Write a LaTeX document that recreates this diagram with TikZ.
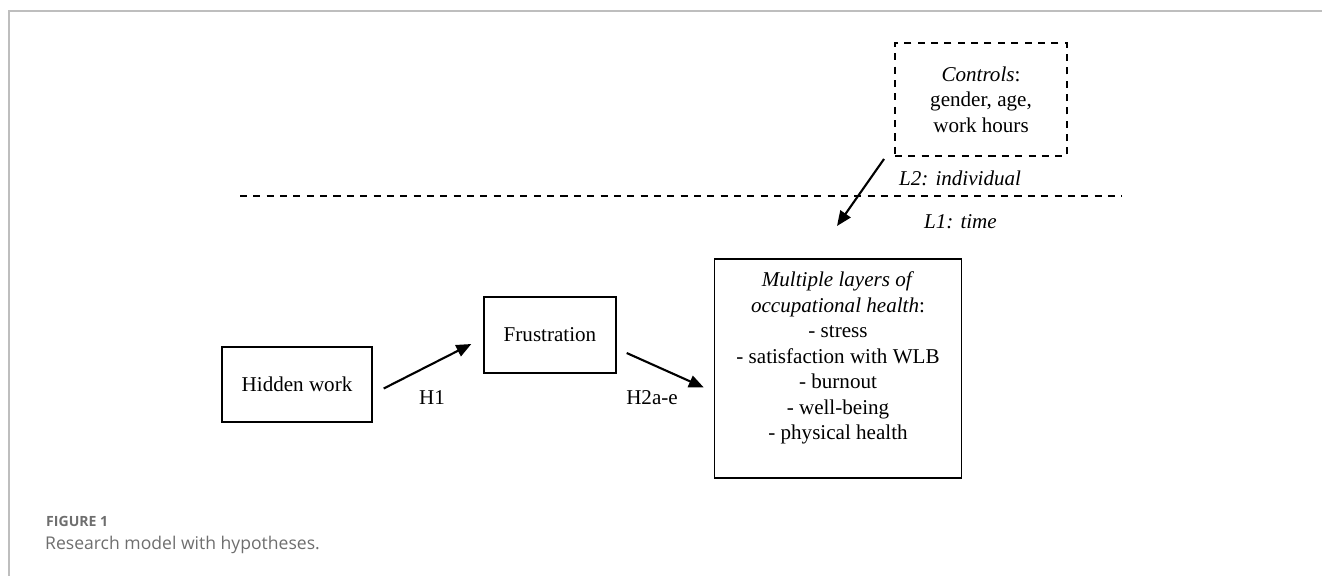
\documentclass[tikz,border=0pt]{standalone}
\usepackage{fontspec}
\setmainfont{Liberation Serif}
\newfontfamily\captionfont{Open Sans}
\usepackage{tikz}
\usetikzlibrary{arrows.meta, positioning, calc}
\definecolor{framegray}{RGB}{190,190,190}
\definecolor{captiongray}{RGB}{110,110,110}

\begin{document}
\begin{tikzpicture}[
            x=0.02cm, y=-0.02cm,
            box/.style={rectangle, draw=black, line width=0.8pt, align=center, font=\fontsize{12}{14.5}\selectfont},
            ctrlbox/.style={box, dash pattern=on 4pt off 3.6pt, line width=1.1pt},
            level/.style={font=\fontsize{12}{14.5}\selectfont\itshape},
            hyp/.style={font=\fontsize{12}{14.5}\selectfont},
            arrow/.style={-{Triangle[length=8.5pt, width=7pt]}, line width=1.2pt}
        ]
            \useasboundingbox (0,0) rectangle (1322,576);
            % frame of the figure
            \draw[framegray, line width=1pt] (1322,11) -- (9,11) -- (9,576);
            
            \node[box, minimum width=150*0.02cm, minimum height=75*0.02cm] (hidden) at (297,384.5) {Hidden work};
            
            \node[box, minimum width=132*0.02cm, minimum height=76*0.02cm] (frus) at (550,335) {Frustration};
            
            \node[box, minimum width=247*0.02cm, minimum height=219*0.02cm] (health) at (838,368.5) {\textit{Multiple layers of}\\\textit{occupational health}:\\- stress\\- satisfaction with WLB\\- burnout\\- well-being\\- physical health\\\mbox{}};
            
            \node[ctrlbox, minimum width=172*0.02cm, minimum height=113*0.02cm] (ctrl) at (981,99.5) {\textit{Controls}:\\gender, age,\\work hours};
            
            % level separator
            \coordinate (sepL) at (240,196);
            \coordinate (sepR) at (1122,196);
            \draw[dash pattern=on 4pt off 3.6pt, line width=1.1pt] (sepL) -- (sepR);
            \node[level, anchor=west] (l2) at (893,178) {L2: individual};
            \node[level, anchor=west] (l1) at (918,222) {L1: time};
            
            \node[hyp] (h1) at (432,398) {H1};
            \node[hyp] (h2) at (652,398) {H2a-e};
            
            \draw[arrow] ([shift={(11,4)}]hidden.east) -- ([shift={(-12,9)}]frus.west);
            \draw[arrow] ([shift={(10,18)}]frus.east) -- ([shift={(-10,19)}]health.west);
            \draw[arrow] ([shift={(-10,2)}]ctrl.south west) -- (837,226);
            
            % caption
            \node[anchor=west, text=captiongray, font=\captionfont\fontsize{8}{10}\selectfont\bfseries] (fig) at (40,521) {FIGURE 1};
            \node[anchor=west, text=captiongray, font=\captionfont\fontsize{10}{12}\selectfont] (cap) at (39,545) {Research model with hypotheses.};
        \end{tikzpicture}
\end{document}
